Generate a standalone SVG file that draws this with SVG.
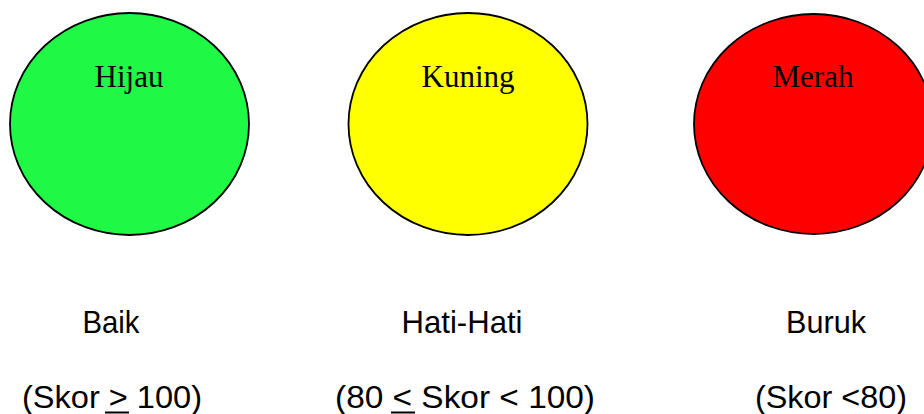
<svg xmlns="http://www.w3.org/2000/svg" width="924" height="414" viewBox="0 0 924 414">
<style>
.c{stroke:#000;stroke-width:1.8}
.t{font-family:"Liberation Serif","Times New Roman",serif;font-size:31px;fill:#000;text-anchor:middle}
.s{font-family:"Liberation Sans",Arial,sans-serif;font-size:32px;fill:#000;text-anchor:middle}
.u{stroke:#000;stroke-width:2}
</style>
<rect width="924" height="414" fill="#fff"/>
<g id="hijau">
<ellipse class="c" cx="129.5" cy="124" rx="119.5" ry="111" fill="#1ff845"/>
<text class="t" x="129" y="87">Hijau</text>
</g>
<g id="kuning">
<ellipse class="c" cx="468" cy="124" rx="119.5" ry="111" fill="#ffff00"/>
<text class="t" x="468" y="87">Kuning</text>
</g>
<g id="merah">
<ellipse class="c" cx="813.5" cy="124" rx="119.5" ry="110" fill="#ff0000"/>
<text class="t" x="813" y="87">Merah</text>
</g>
<g id="baik">
<text class="s" x="111" y="333" textLength="57" lengthAdjust="spacingAndGlyphs">Baik</text>
<text class="s" x="112" y="408" textLength="180" lengthAdjust="spacingAndGlyphs">(Skor &gt; 100)</text>
<line class="u" x1="105" y1="412.5" x2="129" y2="412.5"/>
</g>
<g id="hatihati">
<text class="s" x="462" y="333" textLength="121" lengthAdjust="spacingAndGlyphs">Hati-Hati</text>
<text class="s" x="465" y="408" textLength="260" lengthAdjust="spacingAndGlyphs">(80 &lt; Skor &lt; 100)</text>
<line class="u" x1="391" y1="412.5" x2="415" y2="412.5"/>
</g>
<g id="buruk">
<text class="s" x="826" y="333" textLength="80" lengthAdjust="spacingAndGlyphs">Buruk</text>
<text class="s" x="831" y="408" textLength="152" lengthAdjust="spacingAndGlyphs">(Skor &lt;80)</text>
</g>
<g id="connectors"/>
</svg>
